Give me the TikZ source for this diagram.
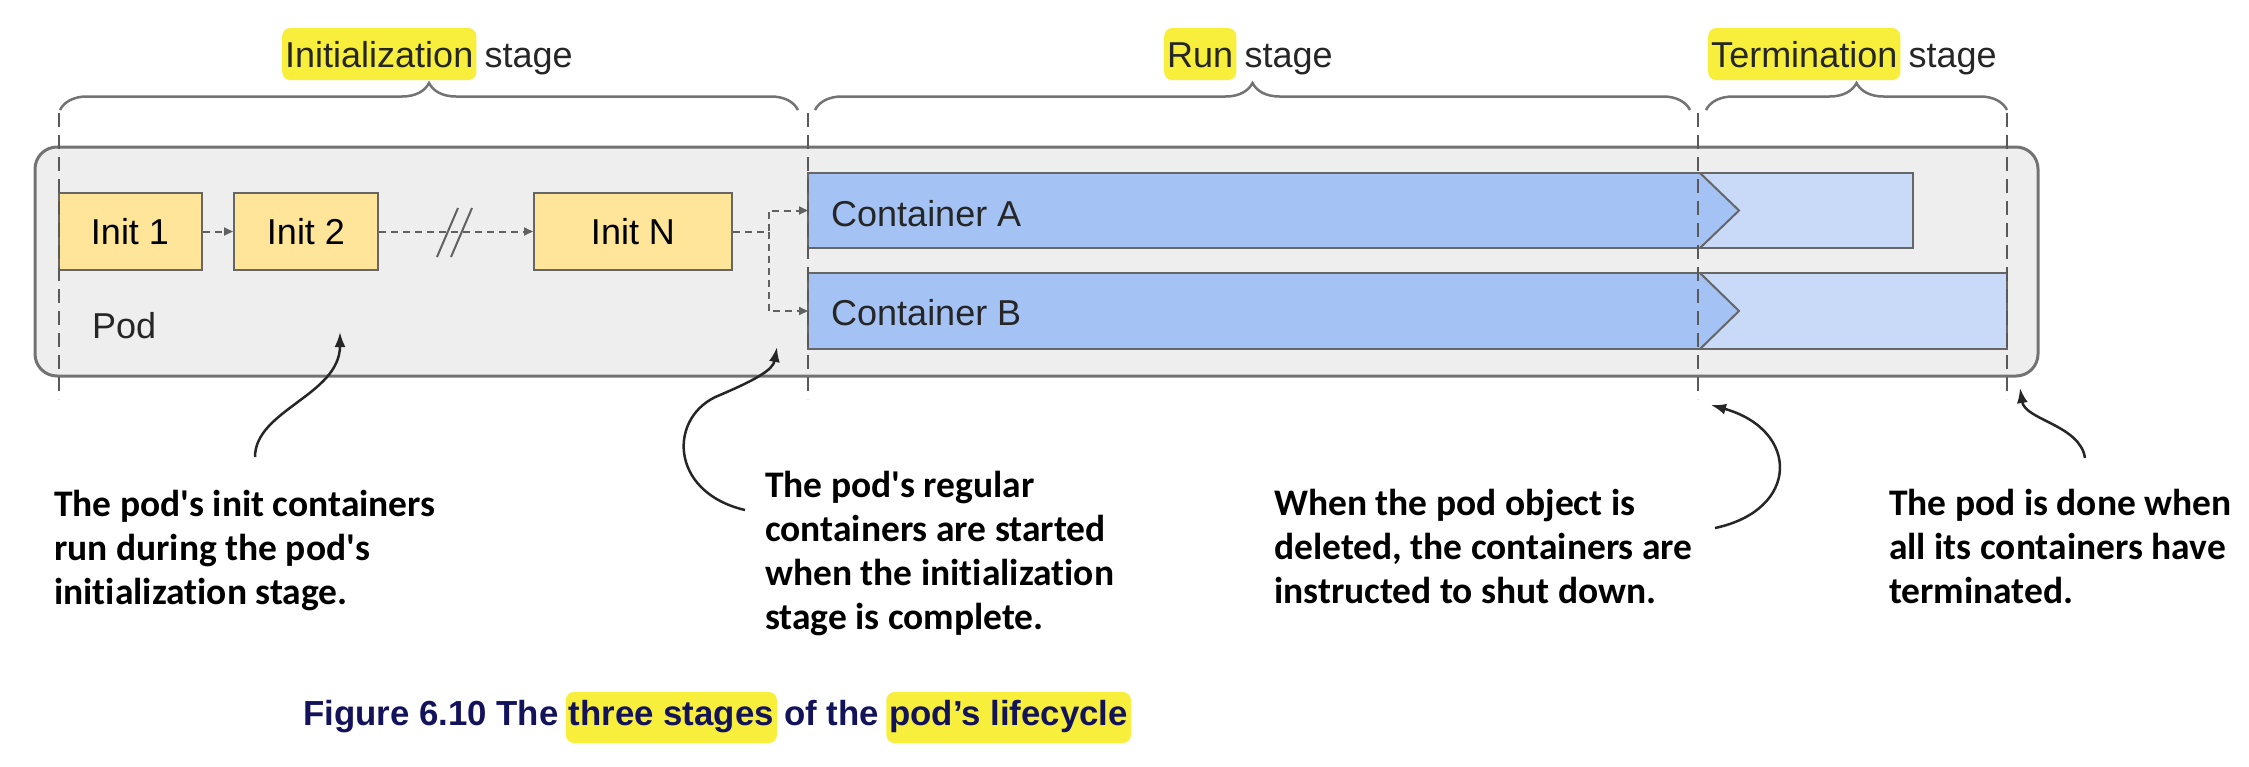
\documentclass[tikz,border=0pt]{standalone}
\usepackage{fontspec}
\setmainfont{Liberation Sans}
\newfontfamily\annfont{Carlito}[Ligatures={TeXOff,NoCommon}]
\usetikzlibrary{arrows.meta,decorations.pathreplacing,calc}
\definecolor{podfill}{HTML}{EEEEEE}
\definecolor{podline}{HTML}{737373}
\definecolor{initfill}{HTML}{FFE599}
\definecolor{darkblue}{HTML}{A4C2F4}
\definecolor{lightblue}{HTML}{C9DAF8}
\definecolor{boxline}{HTML}{666666}
\definecolor{hlyellow}{HTML}{F8EF3C}
\definecolor{capblue}{HTML}{13135C}
\tikzset{
  lbl/.style={inner sep=0pt, font=\fontsize{36}{40}\selectfont, text=black!85},
  hlnode/.style={lbl, fill=hlyellow, rounded corners=8pt, inner xsep=3pt, inner ysep=4pt, text height=35pt, text depth=9pt},
  initbox/.style={draw=boxline, line width=2pt, fill=initfill, minimum height=77pt, inner sep=0pt, font=\fontsize{36}{40}\selectfont},
  contshape/.style={draw=boxline, line width=2pt},
  podbox/.style={draw=podline, line width=3pt, fill=podfill, rounded corners=22pt, inner sep=0pt},
  stagebrace/.style={draw=podline, line width=2.5pt, decorate, decoration={brace, amplitude=27pt}},
  stageline/.style={draw=black!65, line width=2pt, dash pattern=on 14pt off 8pt},
  conn/.style={draw=black!62, line width=2pt, dash pattern=on 7pt off 5pt, -{Triangle[length=9pt,width=8pt]}},
  slash/.style={draw=black!62, line width=2pt},
  ann/.style={inner sep=0pt, align=left, font=\annfont\bfseries\fontsize{37.5}{44}\selectfont},
  curv/.style={draw=black!85, line width=2.5pt, -{Latex[length=15pt,width=11pt]}},
  captext/.style={inner sep=0pt, font=\bfseries\fontsize{34.8}{40}\selectfont, text=capblue},
  caphl/.style={captext, fill=hlyellow, rounded corners=8pt, inner xsep=3pt, inner ysep=4pt, text height=29pt, text depth=14pt},
}
\begin{document}
\begin{tikzpicture}[x=1pt,y=-1pt]
\useasboundingbox (0,0) rectangle (2249,766);
\fill[white] (0,0) rectangle (2249,766);

% pod
\node[podbox, minimum width=2003pt, minimum height=229pt] (pod) at (1036.5,261.5) {};
\node[lbl, anchor=base west] (podlbl) at (92,338) {Pod};

% braces
\draw[stagebrace] (60,110) -- (798,110);
\draw[stagebrace] (815,110) -- (1690,110);
\draw[stagebrace] (1706,110) -- (2007,110);

% stage labels
\node[hlnode, anchor=base west] (inithl) at (282,67) {Initialization};
\node[lbl, anchor=base west] (initst) at ($(inithl.base east)+(8,0)$) {stage};
\node[hlnode, anchor=base west] (runhl) at (1164,67) {Run};
\node[lbl, anchor=base west] (runst) at ($(runhl.base east)+(8,0)$) {stage};
\node[hlnode, anchor=base west] (termhl) at (1708,67) {Termination};
\node[lbl, anchor=base west] (termst) at ($(termhl.base east)+(8,0)$) {stage};

% containers
\fill[darkblue] (808,173) -- (1700,173) -- (1739,210.5) -- (1700,248) -- (808,248) -- cycle;
\fill[lightblue] (1700,173) -- (1913,173) -- (1913,248) -- (1700,248) -- (1739,210.5) -- cycle;
\draw[contshape] (808,173) -- (1913,173) -- (1913,248) -- (808,248) -- cycle;
\draw[contshape] (1700,173) -- (1739,210.5) -- (1700,248);
\fill[darkblue] (808,273) -- (1700,273) -- (1739,311) -- (1700,349) -- (808,349) -- cycle;
\fill[lightblue] (1700,273) -- (2007,273) -- (2007,349) -- (1700,349) -- (1739,311) -- cycle;
\draw[contshape] (808,273) -- (2007,273) -- (2007,349) -- (808,349) -- cycle;
\draw[contshape] (1700,273) -- (1739,311) -- (1700,349);
\node[lbl, anchor=base west] (calbl) at (831,226) {Container A};
\node[lbl, anchor=base west] (cblbl) at (831,325) {Container B};
\coordinate (caw) at (808,210.5);
\coordinate (cbw) at (808,311);

% init containers
\node[initbox, minimum width=143pt] (i1) at (130,231.5) {Init 1};
\node[initbox, minimum width=144pt] (i2) at (306,231.5) {Init 2};
\node[initbox, minimum width=198pt] (iN) at (633,231.5) {Init N};

% connectors
\draw[conn] (i1) -- (i2);
\draw[conn] (i2) -- (iN);
\draw[slash] (437,257) -- (458,208);
\draw[slash] (451,257) -- (472,208);
\coordinate (split) at (768.5,231.5);
\draw[conn] (iN.east) -- (split) |- (caw);
\draw[conn] (split) |- (cbw);

% stage boundaries
\draw[stageline] (58.5,113) -- (58.5,399);
\draw[stageline] (808,113) -- (808,399);
\draw[stageline] (1698,113) -- (1698,399);
\draw[stageline] (2007,113) -- (2007,399);

% annotations (base anchor = last line's baseline)
\node[ann, anchor=base west] (t1) at (54,604) {The pod's init containers\\run during the pod's\\initialization stage.};
\node[ann, anchor=base west] (t2) at (765,629) {The pod's regular\\containers are started\\when the initialization\\stage is complete.};
\node[ann, anchor=base west] (t3) at (1274,603) {When the pod object is\\deleted, the containers are\\instructed to shut down.};
\node[ann, anchor=base west] (t4) at (1889,603) {The pod is done when\\all its containers have\\terminated.};

\coordinate (a1s) at (255,457);
\coordinate (a1e) at (340,332);
\draw[curv] (a1s) .. controls (255,410) and (340,395) .. (a1e);
\coordinate (a2s) at (745,510);
\coordinate (a2e) at (777,347);
\draw[curv] (a2s) .. controls (668,492) and (668,415) .. (720,395) .. controls (755,380) and (773,370) .. (a2e);
\coordinate (a3s) at (1715,528);
\coordinate (a3e) at (1711,405);
\draw[curv] (a3s) .. controls (1800,510) and (1800,430) .. (a3e);
\coordinate (a4s) at (2085,458);
\coordinate (a4e) at (2020,388);
\draw[curv] (a4s) .. controls (2080,425) and (2025,420) .. (a4e);

% caption
\node[captext, anchor=base west] (cap1) at (303,725) {Figure 6.10 The};
\node[caphl, anchor=base west] (cap2) at ($(cap1.base east)+(7,0)$) {three stages};
\node[captext, anchor=base west] (cap3) at ($(cap2.base east)+(7,0)$) {of the};
\node[caphl, anchor=base west] (cap4) at ($(cap3.base east)+(7,0)$) {pod’s lifecycle};
\end{tikzpicture}
\end{document}
